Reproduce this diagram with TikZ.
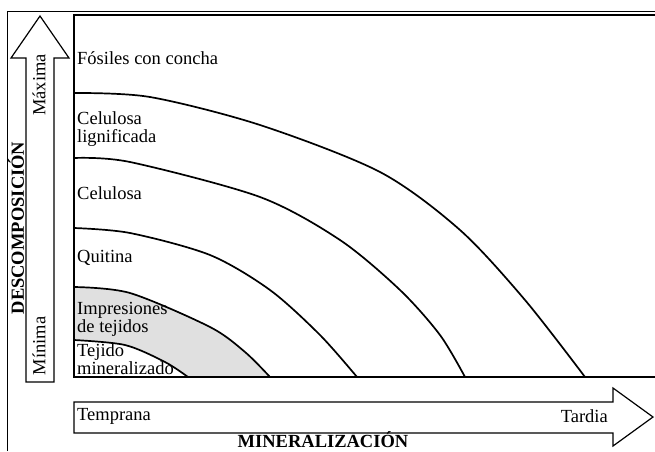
\documentclass[tikz,border=0pt]{standalone}
\usepackage{fontspec}
\setmainfont{Liberation Serif}
\definecolor{impgray}{gray}{0.88}
\begin{document}
\begin{tikzpicture}[x=1pt,y=-1pt,
	lbl/.style={anchor=west,inner sep=0pt,align=left,font=\fontsize{18.5}{18}\selectfont},
	vlbl/.style={inner sep=0pt,rotate=90,font=\fontsize{18.5}{18}\selectfont},
	axlbl/.style={inner sep=0pt,font=\fontsize{18.5}{18}\selectfont\bfseries},
	curve/.style={line width=1.7pt},
	arrowbox/.style={line width=1.2pt,line join=miter}]
	\useasboundingbox (0,0) rectangle (655,451);
	\draw[line width=0.8pt] (7,451) -- (7,11) -- (655,11);
	% zona gris
	\fill[impgray] plot[smooth] coordinates {(74,287) (130,293) (210,327) (245,352) (270,377)} -- (74,377) -- cycle;
	\fill[white] plot[smooth] coordinates {(74,340) (125,345) (165,362) (188,377)} -- (74,377) -- cycle;
	% curvas
	\draw[curve] plot[smooth] coordinates {(74,93) (150,97) (260,125) (380,172) (460,230) (525,300) (585,377)};
	\draw[curve] plot[smooth] coordinates {(74,158) (130,162) (260,197) (340,240) (400,290) (440,335) (465,377)};
	\draw[curve] plot[smooth] coordinates {(74,228) (130,233) (210,255) (270,290) (320,335) (357,377)};
	\draw[curve] plot[smooth] coordinates {(74,287) (130,293) (210,327) (245,352) (270,377)};
	\draw[curve] plot[smooth] coordinates {(74,340) (125,345) (165,362) (188,377)};
	\draw[curve] (655,15) -- (74,15) -- (74,377) -- (655,377);
	% flechas
	\draw[arrowbox] (26,382) -- (26,58) -- (11,58) -- (40,16) -- (69,58) -- (54,58) -- (54,382) -- cycle;
	\draw[arrowbox] (74,402) -- (613,402) -- (613,388) -- (653,417) -- (613,446) -- (613,433) -- (74,433) -- cycle;
	% textos
	\node[axlbl,rotate=90] (desc) at (16,228) {DESCOMPOSICIÓN};
	\node[vlbl] (maxi) at (39,85) {Máxima};
	\node[vlbl] (mini) at (39,346) {Mínima};
	\node[lbl] (temp) at (77,416) {Temprana};
	\node[lbl,anchor=east] (tard) at (608,416) {Tardia};
	\node[axlbl] (mine) at (323,440) {MINERALIZACIÓN};
	\node[lbl] (fos) at (77,58) {Fósiles con concha};
	\node[lbl] (celg) at (77,129) {Celulosa\\lignificada};
	\node[lbl] (cel) at (77,193) {Celulosa};
	\node[lbl] (qui) at (77,258) {Quitina};
	\node[lbl] (imp) at (77,319) {Impresiones\\de tejidos};
	\node[lbl] (tej) at (77,359) {Tejido\\mineralizado};
\end{tikzpicture}
\end{document}
